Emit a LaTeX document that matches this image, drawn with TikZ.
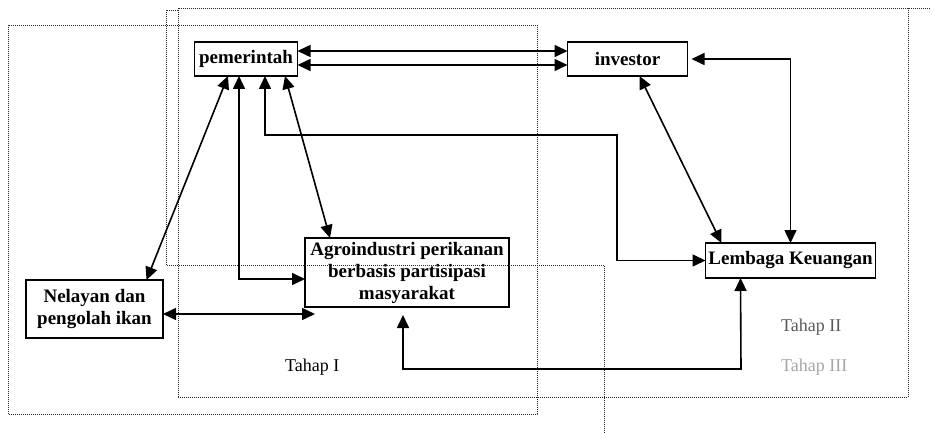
\documentclass[tikz,border=0pt]{standalone}
\usepackage{fontspec}
\setmainfont{Liberation Serif}
\usetikzlibrary{arrows.meta, positioning}
\tikzset {
  actor/.style = {draw, line width=1.5pt, outer sep=0pt, inner sep=2pt, text centered, align=center, font=\bfseries\fontsize{19}{22}\selectfont},
  line/.style = {{Triangle[length=13pt,width=12pt]}-{Triangle[length=13pt,width=12pt]}, line width=1.6pt, color=black},
  stage/.style = {line width=0.9pt, dash pattern=on 0.9pt off 1.1pt, color=black!85},
  stagelabel/.style = {inner sep=0pt, anchor=west, font=\fontsize{18}{22}\selectfont}
}

\begin{document}
\begin{tikzpicture}[x=1pt, y=-1pt]
    \useasboundingbox (0,0) rectangle (934,433);

    \node[actor, minimum width=103pt, minimum height=34pt] (pem) at (246,59) {pemerintah};
    \node[actor, minimum width=120pt, minimum height=34pt, right=270pt of pem] (inv) {investor};
    \node[actor, minimum width=204pt, minimum height=69pt, below=162pt of pem, xshift=161pt] (agro) {Agroindustri perikanan\\berbasis partisipasi\\masyarakat};
    \node[actor, minimum width=137pt, minimum height=58pt, left=142pt of agro, yshift=-36.5pt] (nel) {Nelayan dan\\pengolah ikan};
    \node[actor, minimum width=170pt, minimum height=35pt, below=167pt of inv, xshift=163pt] (lem) {Lembaga Keuangan};

    % stage frames
    \draw[stage] (8,25) rectangle (537,414);
    \draw[stage] (178,10) -- (166,10) -- (166,265) -- (604,265) -- (604,433);
    \draw[stage] (178,397) -- (178,8) -- (930,8);
    \draw[stage] (908,8) -- (908,397) -- (178,397);

    \node[stagelabel] (tahap1) at (285,367) {Tahap I};
    \node[stagelabel, text=black!65] (tahap2) at (781,327) {Tahap II};
    \node[stagelabel, text=black!35] (tahap3) at (781,367) {Tahap III};

    \coordinate (bend1) at (617,135);
    \coordinate (agrotip) at (315,314);
    \coordinate (lowrun) at (741,369);

    \draw[line] ([yshift=8pt]pem.east) -- ([yshift=8pt]inv.west);
    \draw[line] ([yshift=-6pt]pem.east) -- ([yshift=-6pt]inv.west);
    \draw[line] ([xshift=4pt]inv.east) -| (lem.north);
    \draw[line] ([xshift=12pt]inv.south) -- ([xshift=-69pt]lem.north);
    \draw[line] ([xshift=19pt]pem.south) |- (bend1) |- (lem.west);
    \draw[line] ([xshift=-18pt]pem.south) -- ([xshift=52pt]nel.north);
    \draw[line] ([xshift=-7pt]pem.south) |- ([yshift=-6.5pt]agro.west);
    \draw[line] ([xshift=39pt]pem.south) -- ([xshift=-77pt]agro.north);
    \draw[line] ([yshift=-5pt]nel.east) -- (agrotip);
    \draw[line] ([xshift=-4pt,yshift=-8pt]agro.south) |- (lowrun) -- ([xshift=-50pt]lem.south);

  \end{tikzpicture}
\end{document}
